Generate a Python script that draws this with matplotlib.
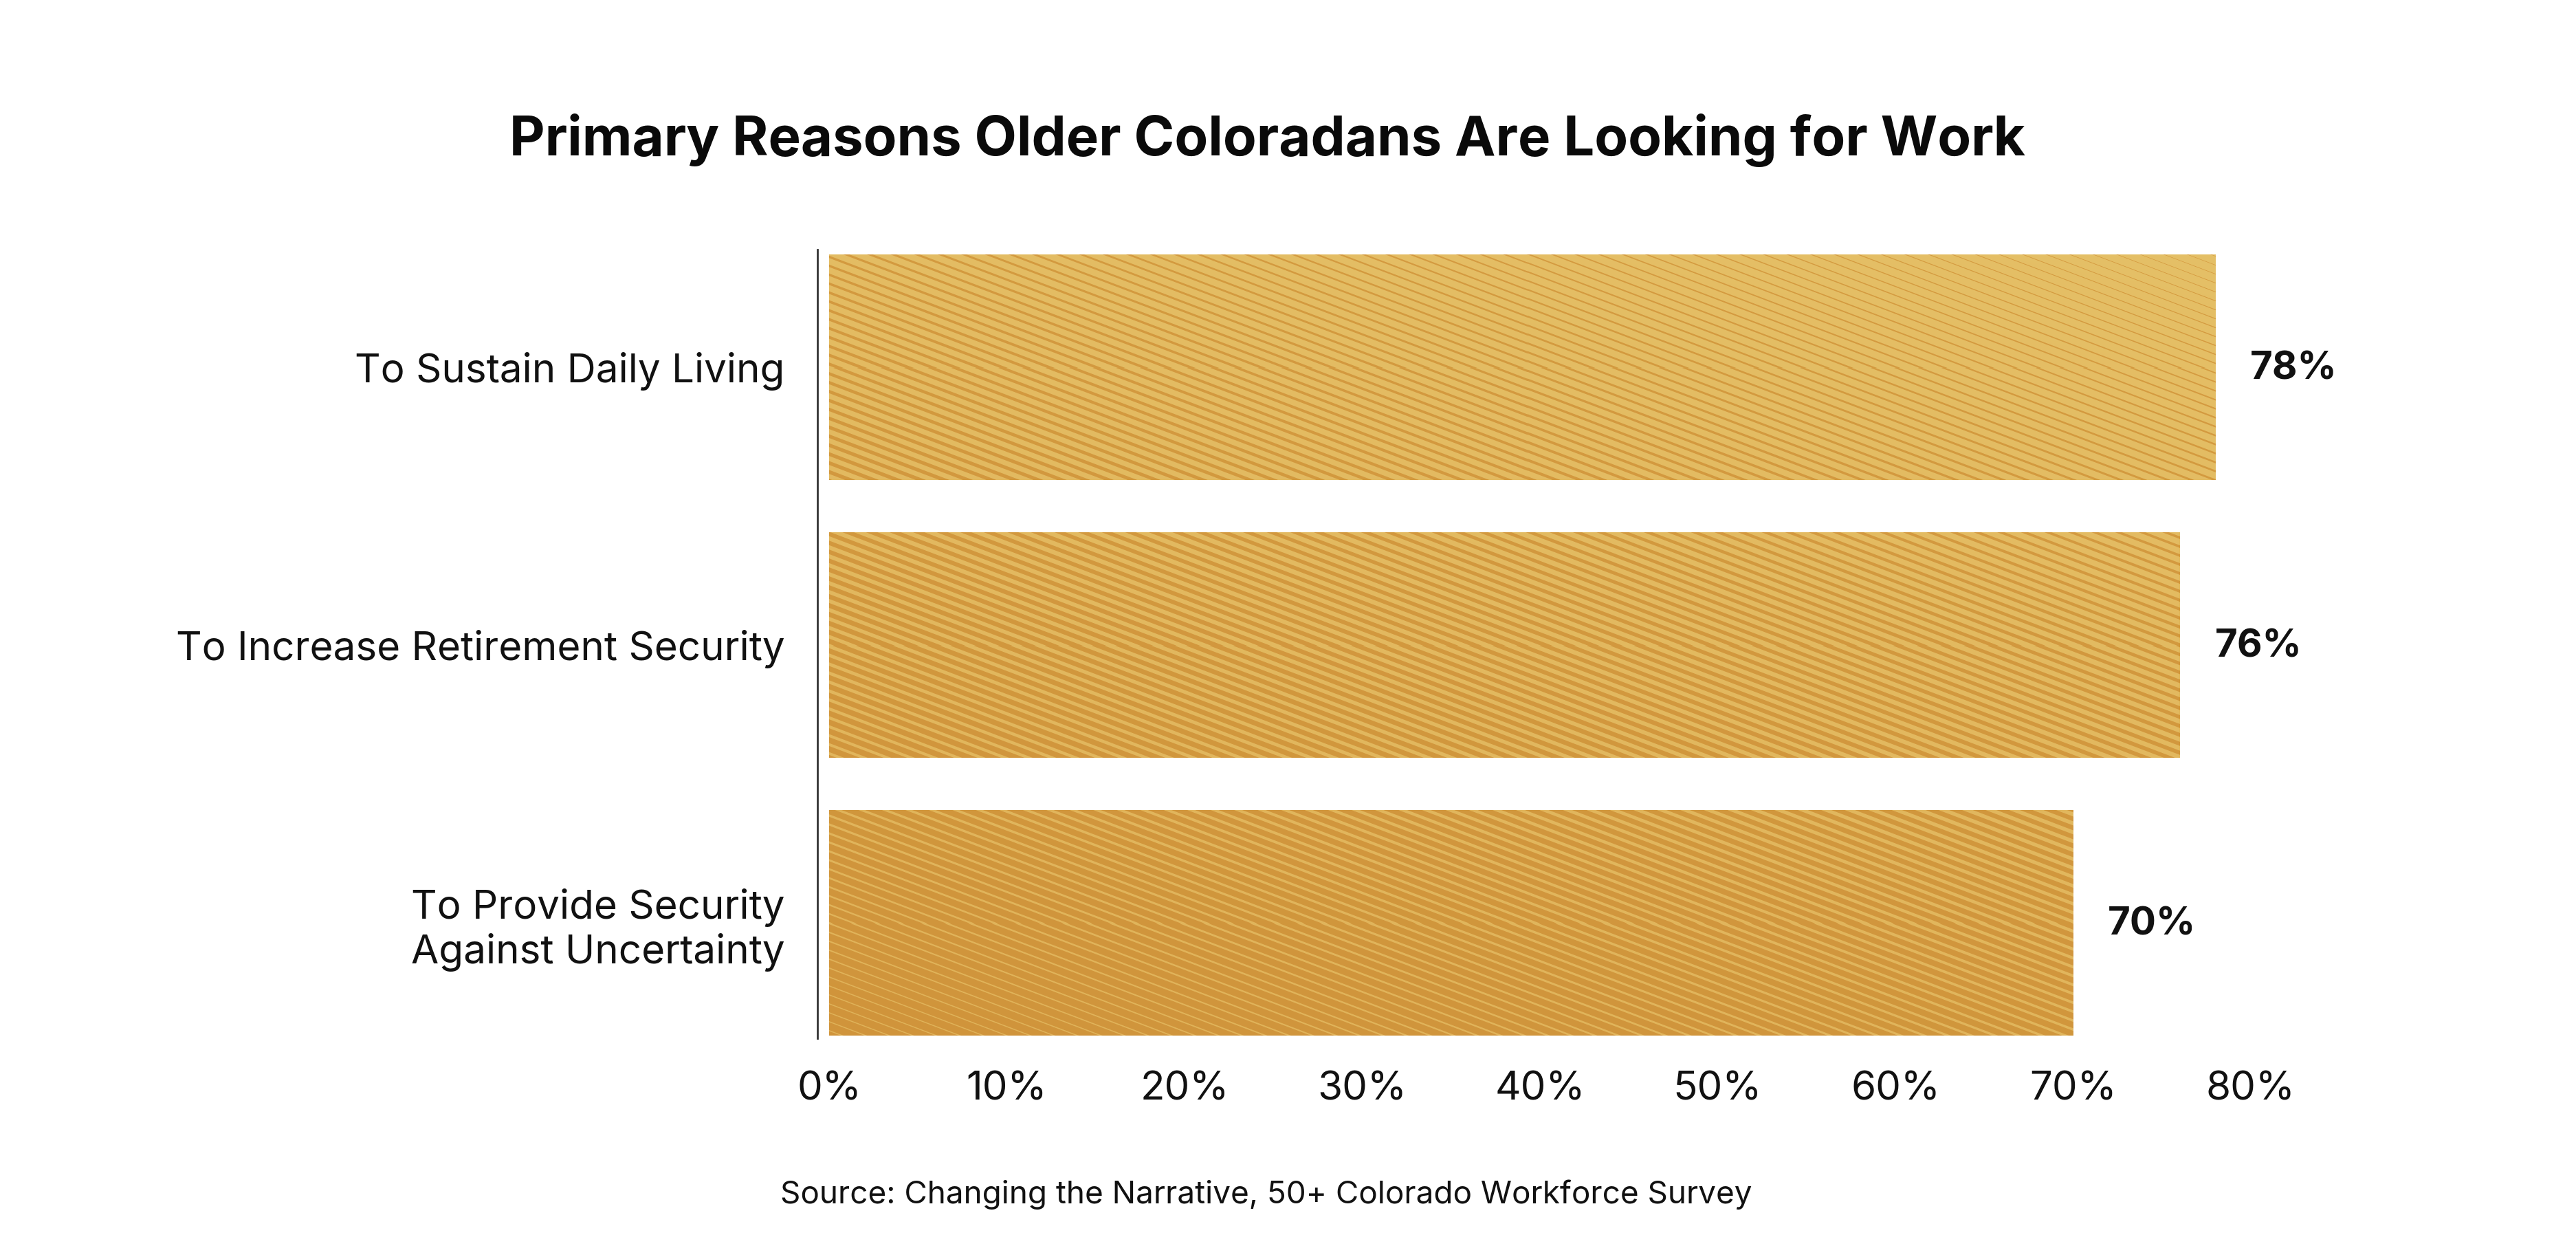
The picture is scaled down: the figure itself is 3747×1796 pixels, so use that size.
import numpy as np
import matplotlib
matplotlib.use("Agg")
import matplotlib.pyplot as plt

# ---------------- data ----------------
categories = ["To Sustain Daily Living",
              "To Increase Retirement Security",
              "To Provide Security\nAgainst Uncertainty"]
values = [78, 76, 70]
x_ticks = [0, 10, 20, 30, 40, 50, 60, 70, 80]
title = "Primary Reasons Older Coloradans Are Looking for Work"
source = "Source: Changing the Narrative, 50+ Colorado Workforce Survey"

# ---------------- style ----------------
W_PX, H_PX, DPI = 3748, 1796, 200
plt.rcParams['font.family'] = ['Inter', 'DejaVu Sans']

fig = plt.figure(figsize=(W_PX / DPI, H_PX / DPI), dpi=DPI)
fig.patch.set_facecolor("white")

ax_left, ax_right = 1189 / W_PX, 3500 / W_PX
ax_bottom, ax_top = 1 - 1510 / H_PX, 1 - 363 / H_PX
ax = fig.add_axes([ax_left, ax_bottom, ax_right - ax_left, ax_top - ax_bottom])

px_per_unit = 25.85
ax.set_xlim((1189 - 1206) / px_per_unit, (3500 - 1206) / px_per_unit)
ax.set_ylim(2.416, -0.423)

ypos = np.arange(len(categories))
bars = ax.barh(ypos, values, height=0.81, color="#dcaa50", zorder=1)

# stripe / gradient texture on each bar
light0 = np.array([0.898, 0.753, 0.404])
light1 = np.array([0.878, 0.700, 0.350])
dark0 = np.array([0.835, 0.612, 0.255])
dark1 = np.array([0.816, 0.584, 0.235])
period = 13.0
tan_t = 0.38


def texture(Xp, Yp):
    d = 0.05 + (-0.000106) * (Xp - 3222) + 0.000571 * (Yp - 371)
    d = np.clip(d, 0.02, 0.88)
    t = np.clip((d - 0.02) / 0.86, 0, 1)
    ph = (Yp - Xp * tan_t) / period
    v = ph - np.floor(ph)
    dist = np.abs(v - 0.5) * period
    cov = np.clip(d / 2 * period - dist + 0.5, 0, 1)
    light = light0[None, None, :] * (1 - t[..., None]) + light1[None, None, :] * t[..., None]
    dark = dark0[None, None, :] * (1 - t[..., None]) + dark1[None, None, :] * t[..., None]
    return light * (1 - cov[..., None]) + dark * cov[..., None]


for b in bars:
    x0, y0, w, h = b.get_x(), b.get_y(), b.get_width(), b.get_height()
    (dx0, dy0), (dx1, dy1) = ax.transData.transform([[x0, y0], [x0 + w, y0 + h]])
    Xl, Xr = dx0, dx1
    Yt, Yb = H_PX - dy0, H_PX - dy1
    nx = max(int(round(Xr - Xl)), 2)
    ny = max(int(round(Yb - Yt)), 2)
    Xs = np.linspace(Xl + 0.5, Xr - 0.5, nx)
    Ys = np.linspace(Yt + 0.5, Yb - 0.5, ny)
    Xg, Yg = np.meshgrid(Xs, Ys)
    img = texture(Xg, Yg)
    im = ax.imshow(img, extent=(x0, x0 + w, y0 + h, y0), origin="upper",
                   aspect="auto", interpolation="nearest", zorder=2)
    im.set_clip_path(b)

ax.set_xlim((1189 - 1206) / px_per_unit, (3500 - 1206) / px_per_unit)
ax.set_ylim(2.416, -0.423)

# value labels
for b, v in zip(bars, values):
    ax.annotate(f"{v}%", xy=(b.get_width(), b.get_y() + b.get_height() / 2),
                xytext=(18.3, -6.5), textcoords="offset points",
                ha="left", va="baseline", fontsize=20.3, fontweight="bold",
                color="#111111", zorder=3)

# axes styling
for s in ["top", "right", "bottom"]:
    ax.spines[s].set_visible(False)
ax.spines["left"].set_linewidth(1.0)
ax.spines["left"].set_color("#333333")

ax.set_yticks(ypos, labels=categories)
ax.set_xticks(x_ticks, labels=[f"{t}%" for t in x_ticks])
ax.tick_params(axis="y", length=0, pad=17, labelsize=21, labelcolor="#111111")
ax.tick_params(axis="x", length=0, pad=17, labelsize=21, labelcolor="#111111")
for lbl in ax.get_yticklabels():
    lbl.set_horizontalalignment("right")
    lbl.set_multialignment("right")
ax.set_facecolor("none")

fig.text(1843 / W_PX, 1 - 226 / H_PX, title, ha="center", va="baseline",
         fontsize=28.7, fontweight="bold", color="#0a0a0a")
fig.text(1842 / W_PX, 1 - 1750 / H_PX, source, ha="center", va="baseline",
         fontsize=16.5, color="#111111")

fig.savefig("out.png", dpi=DPI, facecolor="white")
